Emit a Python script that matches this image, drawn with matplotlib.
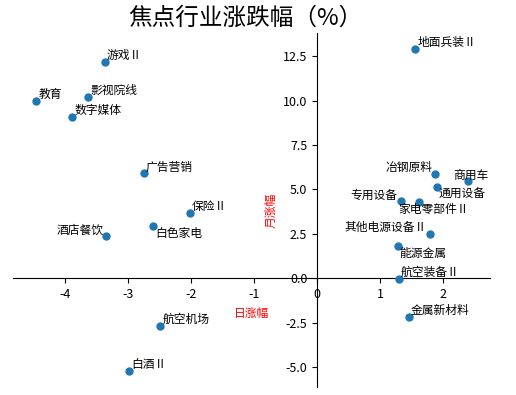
import matplotlib
matplotlib.use('Agg')
import matplotlib.pyplot as plt

plt.rcParams['font.family'] = ['Noto Sans CJK SC', 'DejaVu Sans']
plt.rcParams['axes.unicode_minus'] = False

# industry names, daily change (%), monthly change (%)
names = ['地面兵装Ⅱ', '游戏Ⅱ', '教育', '影视院线', '数字媒体', '广告营销', '保险Ⅱ',
         '白色家电', '酒店餐饮', '航空机场', '白酒Ⅱ', '冶钢原料', '商用车', '通用设备',
         '专用设备', '家电零部件Ⅱ', '其他电源设备Ⅱ', '能源金属', '航空装备Ⅱ', '金属新材料']
day_chg = [1.56, -3.37, -4.46, -3.63, -3.89, -2.75, -2.02,
           -2.60, -3.35, -2.49, -2.98, 1.87, 2.40, 1.90,
           1.33, 1.62, 1.80, 1.28, 1.30, 1.46]
month_chg = [12.89, 12.20, 10.00, 10.20, 9.10, 5.90, 3.70,
             2.93, 2.36, -2.70, -5.23, 5.85, 5.45, 5.12,
             4.33, 4.28, 2.48, 1.80, -0.02, -2.20]

# label placement: (dx px, dy px, ha, va)
label_pos = {
    '白色家电': (2, -1, 'left', 'top'),
    '酒店餐饮': (-2, 0, 'right', 'bottom'),
    '冶钢原料': (-2, 0, 'right', 'bottom'),
    '商用车': (3, 0, 'center', 'bottom'),
    '通用设备': (2, -1, 'left', 'top'),
    '专用设备': (-3, 0, 'right', 'bottom'),
    '家电零部件Ⅱ': (-21, -1, 'left', 'top'),
    '其他电源设备Ⅱ': (-4, 0, 'right', 'bottom'),
    '能源金属': (2, -1, 'left', 'top'),
}

fig = plt.figure(figsize=(5.16, 3.95), dpi=100)
ax = fig.add_axes([0.025, 0.02, 0.925, 0.896])

ax.scatter(day_chg, month_chg, s=25, color='#1f77b4', zorder=3)

for n, x, y in zip(names, day_chg, month_chg):
    dx, dy, ha, va = label_pos.get(n, (2, 0, 'left', 'bottom'))
    ax.annotate(n, (x, y), xytext=(dx * 0.72, dy * 0.72), textcoords='offset points',
                ha=ha, va=va, fontsize=8.5)

ax.set_xlim(-4.83, 2.75)
ax.set_ylim(-6.13, 13.8)

ax.spines['left'].set_position(('data', 0))
ax.spines['bottom'].set_position(('data', 0))
ax.spines['top'].set_visible(False)
ax.spines['right'].set_visible(False)
ax.tick_params(labelsize=9)

ax.set_xlabel('日涨幅', color='red', fontsize=8.5)
ax.set_ylabel('月涨幅', color='red', fontsize=8.5)

fig.text(0.475, 0.954, '焦点行业涨跌幅（%）', fontsize=17, ha='center', va='center')

fig.savefig('out.png', dpi=100)
